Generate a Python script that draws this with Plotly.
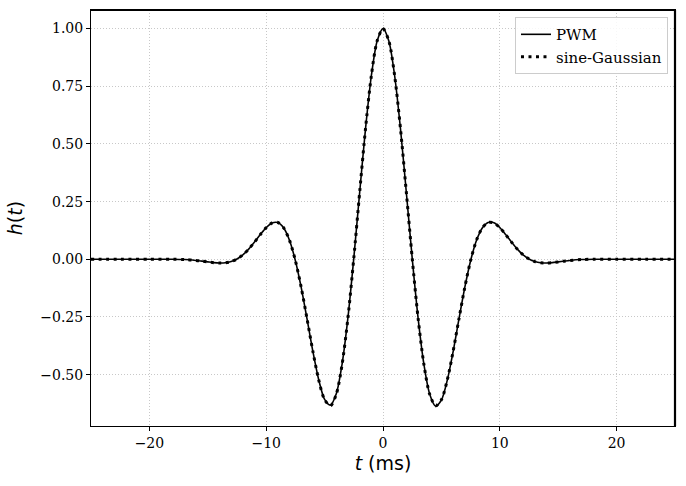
import plotly.graph_objects as go

# time axis (ms)
t_ms = [-25, -22.5, -20, -18, -17, -16, -15.5, -15, -14.5, -14, -13.5, -13, -12.5, -12, -11.5,
        -11, -10.5, -10, -9.5, -9, -8.5, -8, -7.5, -7, -6.5, -6, -5.5, -5, -4.5, -4, -3.5,
        -3, -2.5, -2, -1.5, -1, -0.5, 0, 0.5, 1, 1.5, 2, 2.5, 3, 3.5, 4, 4.5, 5, 5.5, 6,
        6.5, 7, 7.5, 8, 8.5, 9, 9.5, 10, 10.5, 11, 11.5, 12, 12.5, 13, 13.5, 14, 14.5, 15,
        15.5, 16, 17, 18, 20, 22.5, 25]

# PWM waveform
h_pwm = [0.0, 0.0, 0.0, 0.0004, -0.0011, -0.0050, -0.0080, -0.0113, -0.0143, -0.0160, -0.0150,
         -0.0098, 0.0012, 0.0190, 0.0440, 0.0748, 0.1076, 0.1375, 0.1575, 0.1590, 0.1355,
         0.0815, -0.0060, -0.1228, -0.2595, -0.4000, -0.5230, -0.6070, -0.6320, -0.5830,
         -0.4530, -0.2520, 0.0050, 0.2885, 0.5640, 0.7945, 0.9465, 1.0, 0.9465, 0.7945,
         0.5640, 0.2885, 0.0050, -0.2525, -0.4540, -0.5845, -0.6360, -0.6100, -0.5250,
         -0.4010, -0.2595, -0.1228, -0.0060, 0.0815, 0.1360, 0.1598, 0.1580, 0.1375,
         0.1076, 0.0748, 0.0440, 0.0190, 0.0012, -0.0098, -0.0152, -0.0162, -0.0145,
         -0.0113, -0.0080, -0.0050, -0.0011, 0.0004, 0.0, 0.0, 0.0]

# sine-Gaussian waveform
h_sg = [0.0, 0.0, 0.0, 0.0004, -0.0011, -0.0052, -0.0082, -0.0115, -0.0145, -0.0161, -0.0151,
        -0.0098, 0.0014, 0.0192, 0.0441, 0.0745, 0.1073, 0.1373, 0.1573, 0.1595, 0.1361,
        0.0819, -0.0057, -0.1224, -0.2590, -0.3998, -0.5237, -0.6087, -0.6349, -0.5852,
        -0.4550, -0.2530, 0.0051, 0.2891, 0.5647, 0.7945, 0.9467, 1.0, 0.9467, 0.7945,
        0.5647, 0.2891, 0.0051, -0.2530, -0.4550, -0.5852, -0.6349, -0.6087, -0.5237,
        -0.3998, -0.2590, -0.1224, -0.0057, 0.0819, 0.1361, 0.1595, 0.1573, 0.1373,
        0.1073, 0.0745, 0.0441, 0.0192, 0.0014, -0.0098, -0.0151, -0.0161, -0.0145,
        -0.0115, -0.0082, -0.0052, -0.0011, 0.0004, 0.0, 0.0, 0.0]

x_ticks = [-20, -10, 0, 10, 20]
y_ticks = [-0.50, -0.25, 0.00, 0.25, 0.50, 0.75, 1.00]
x_tick_text = ["\u221220", "\u221210", "0", "10", "20"]
y_tick_text = ["\u22120.50", "\u22120.25", "0.00", "0.25", "0.50", "0.75", "1.00"]

SERIF = "DejaVu Serif, Liberation Serif, serif"

fig = go.Figure()
fig.add_trace(go.Scatter(x=t_ms, y=h_pwm, mode="lines", name="PWM",
                         line=dict(color="black", width=1.6, shape="spline", smoothing=0.8)))
fig.add_trace(go.Scatter(x=t_ms, y=h_sg, mode="lines", name="sine-Gaussian",
                         line=dict(color="black", width=3, dash="3px,4.5px",
                                   shape="spline", smoothing=0.8)))

axis_common = dict(
    showline=True, linecolor="black", linewidth=1, mirror=True,
    ticks="outside", ticklen=4, tickwidth=1, tickcolor="black",
    showgrid=True, gridcolor="#c8c8c8", gridwidth=1, griddash="1px,2px",
    zeroline=False,
    tickfont=dict(family=SERIF, size=14, color="black"),
)

fig.update_xaxes(range=[-25, 25], tickmode="array", tickvals=x_ticks, ticktext=x_tick_text,
                 title=dict(text="<i>t</i> (ms)", font=dict(family="DejaVu Sans", size=19, color="black"),
                            standoff=6),
                 **axis_common)
fig.update_yaxes(range=[-0.7226, 1.0806], tickmode="array", tickvals=y_ticks, ticktext=y_tick_text,
                 title=dict(text="<i>h</i>(<i>t</i>)", font=dict(family="DejaVu Sans", size=19, color="black"),
                            standoff=12),
                 **axis_common)

# heavier top and right frame edges
fig.add_shape(type="line", xref="paper", yref="paper", x0=0, x1=1, y0=1, y1=1,
              line=dict(color="black", width=2.2))
fig.add_shape(type="line", xref="paper", yref="paper", x0=1, x1=1, y0=0, y1=1,
              line=dict(color="black", width=2.2))

fig.update_layout(
    width=686, height=486,
    margin=dict(l=91, r=11, t=10, b=60),
    paper_bgcolor="white", plot_bgcolor="white",
    font=dict(family=SERIF, size=14, color="black"),
    showlegend=True,
    legend=dict(x=0.988, y=0.983, xanchor="right", yanchor="top",
                bgcolor="rgba(255,255,255,0.85)", bordercolor="#cccccc", borderwidth=1,
                font=dict(family=SERIF, size=15, color="black"),
                tracegroupgap=0, itemwidth=30),
)

fig.write_html("out.html")
